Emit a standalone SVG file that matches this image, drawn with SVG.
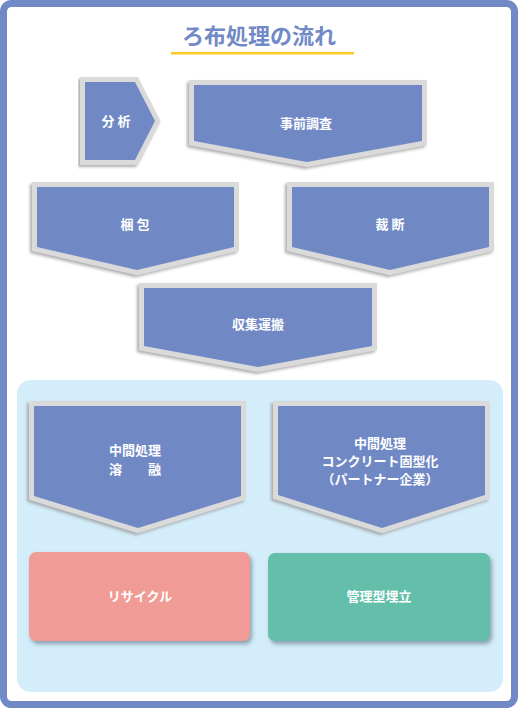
<svg xmlns="http://www.w3.org/2000/svg" width="518" height="708" viewBox="0 0 518 708">
<style>
.chev{fill:#7089C5;stroke:#DADADA;stroke-width:10;paint-order:stroke;stroke-linejoin:miter;filter:url(#sh)}
.lbl{font-family:"Noto Sans CJK JP","Noto Sans",sans-serif;font-weight:bold;font-size:13px;fill:#FFFFFF;text-anchor:middle}
.box{filter:url(#sh2)}
</style>
<defs>
<filter id="sh" x="-10%" y="-10%" width="120%" height="125%">
<feDropShadow dx="-2" dy="2" stdDeviation="1.5" flood-color="#9A9A9A" flood-opacity="0.8"/>
</filter>
<filter id="sh2" x="-10%" y="-10%" width="120%" height="130%">
<feDropShadow dx="2" dy="3" stdDeviation="2" flood-color="#5A6A80" flood-opacity="0.6"/>
</filter>
</defs>
<rect x="0" y="0" width="518" height="708" fill="#FFFFFF"/>
<rect x="3.5" y="3.5" width="511" height="701" rx="8" fill="#FFFFFF" stroke="#7189C6" stroke-width="7"/>
<g id="title">
<text x="259" y="44" font-family="'Noto Sans CJK JP','Noto Sans',sans-serif" font-weight="bold" font-size="22" fill="#7189C6" text-anchor="middle">ろ布処理の流れ</text>
<rect x="171" y="52" width="183" height="2.5" fill="#FFC926"/>
</g>
<g id="panel">
<rect x="17" y="380" width="486" height="312" rx="14" fill="#D3EDFA"/>
</g>
<g id="bunseki">
<polygon class="chev" points="85,82 135,82 155,121 135,160 85,160"/>
<text class="lbl" x="116" y="126">分 析</text>
</g>
<g id="jizen">
<polygon class="chev" points="194,85 422,85 422,141 307,162 194,141"/>
<text class="lbl" x="306" y="128">事前調査</text>
</g>
<g id="konpo">
<polygon class="chev" points="37,187 234,187 234,247 137,270 37,247"/>
<text class="lbl" x="135" y="229">梱 包</text>
</g>
<g id="saidan">
<polygon class="chev" points="292,187 489,187 489,247 390,270 292,247"/>
<text class="lbl" x="390" y="229">裁 断</text>
</g>
<g id="shushu">
<polygon class="chev" points="144,288 372,288 372,346 258,367 144,346"/>
<text class="lbl" x="258" y="329">収集運搬</text>
</g>
<g id="yoyu">
<polygon class="chev" points="34,406 241,406 241,496 138,528 34,496"/>
<text class="lbl" x="135" y="455">中間処理</text>
<text class="lbl" x="135" y="474">溶　　融</text>
</g>
<g id="concrete">
<polygon class="chev" points="278,406 485,406 485,495 382,528 278,495"/>
<text class="lbl" x="380" y="448">中間処理</text>
<text class="lbl" x="380" y="466">コンクリート固型化</text>
<text class="lbl" x="380" y="484">（パートナー企業）</text>
</g>
<g id="recycle">
<rect class="box" x="29" y="552" width="221" height="89" rx="7" fill="#F09B95"/>
<text class="lbl" x="140" y="601">リサイクル</text>
</g>
<g id="umetate">
<rect class="box" x="268" y="553" width="222" height="88" rx="7" fill="#63BFAA"/>
<text class="lbl" x="379" y="601">管理型埋立</text>
</g>
<g id="connectors"></g>
</svg>
